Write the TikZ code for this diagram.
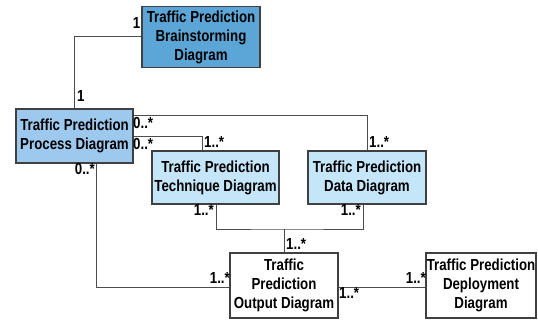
\documentclass[tikz,border=0pt]{standalone}
\usepackage{fontspec}
\setmainfont[FakeStretch=0.83]{Liberation Sans}
\begin{document}
\begin{tikzpicture}[x=1pt,y=-1pt,
  font=\fontsize{16}{19}\selectfont\bfseries,
  box/.style={draw=black!75,line width=1.2pt,rectangle,inner sep=0pt,align=center},
  conn/.style={draw=black!70,line width=1pt},
  lbl/.style={inner sep=1pt}]
\definecolor{bsblue}{HTML}{5BA6D6}
\definecolor{prblue}{HTML}{9DC9EE}
\definecolor{ltblue}{HTML}{C5E5F8}
\useasboundingbox (0,0) rectangle (538,321);

\node[box,fill=bsblue,minimum width=118pt,minimum height=61pt] (bs) at (201,37) {Traffic Prediction\\Brainstorming\\Diagram};
\node[box,fill=prblue,minimum width=117pt,minimum height=54pt] (proc) at (74.5,136) {Traffic Prediction\\Process Diagram};
\node[box,fill=ltblue,minimum width=127pt,minimum height=53pt] (tech) at (215.5,177.5) {Traffic Prediction\\Technique Diagram};
\node[box,fill=ltblue,minimum width=118pt,minimum height=53pt] (data) at (367,177.5) {Traffic Prediction\\Data Diagram};
\node[box,fill=white,minimum width=108pt,minimum height=65pt] (out) at (284,285.5) {Traffic\\Prediction\\Output Diagram};
\node[box,fill=white,minimum width=110pt,minimum height=65pt] (dep) at (481,285.5) {Traffic Prediction\\Deployment\\Diagram};

% connector points
\coordinate (pd) at (proc.east |- 0,115);
\coordinate (pt) at (proc.east |- 0,136);
\coordinate (tt) at (202,0);
\coordinate (ps) at (96,0);
\coordinate (ow) at (out.west |- 0,287);
\coordinate (oe) at (out.east |- 0,287);
\coordinate (ts) at (216,0);
\coordinate (ds) at (363,0);
\coordinate (jn) at (284,229);

\draw[conn] (bs.west) -| (proc.north);
\draw[conn] (pd) -| (data.north);
\draw[conn] (pt) -| (tt |- tech.north);
\draw[conn] (ps |- proc.south) |- (ow);
\draw[conn] (ts |- tech.south) |- (jn) -| (ds |- data.south);
\draw[conn] (out.north) -- (jn);
\draw[conn] (oe) -- (dep.west |- oe);

% multiplicities
\node[lbl,anchor=south east] at (bs.west |- 0,30) {1};
\node[lbl,anchor=south west] at (76,103) {1};
\node[lbl,anchor=north west] at (132,116) {0..*};
\node[lbl,anchor=north west] at (132,137) {0..*};
\node[lbl,anchor=south west] at (368,149) {1..*};
\node[lbl,anchor=south west] at (203,149) {1..*};
\node[lbl,anchor=north east] at (96,162) {0..*};
\node[lbl,anchor=north east] at (215,203) {1..*};
\node[lbl,anchor=north east] at (362,203) {1..*};
\node[lbl,anchor=south west] at (285,251) {1..*};
\node[lbl,anchor=south east] at (231,285) {1..*};
\node[lbl,anchor=north west] at (338,286) {1..*};
\node[lbl,anchor=south east] at (427,285) {1..*};
\end{tikzpicture}
\end{document}
